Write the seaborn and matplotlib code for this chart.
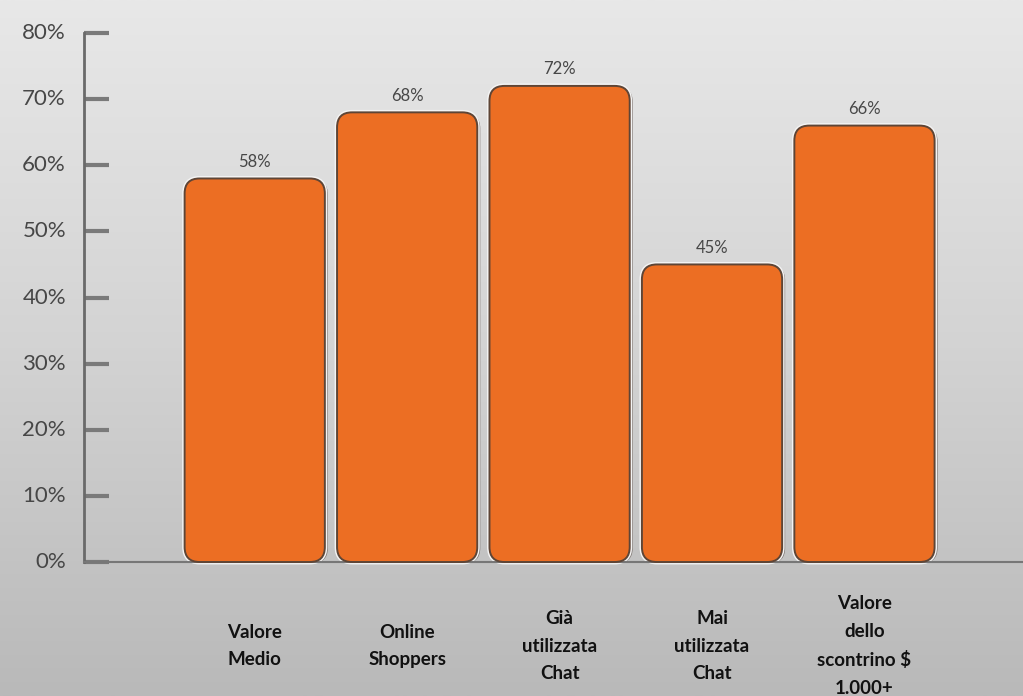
import numpy as np
import pandas as pd
import matplotlib
matplotlib.use("Agg")
import matplotlib.pyplot as plt
import matplotlib.transforms as mtransforms
from matplotlib.patches import FancyBboxPatch
from matplotlib.colors import LinearSegmentedColormap
import seaborn as sns

categories = ["Valore\nMedio", "Online\nShoppers", "Già\nutilizzata\nChat",
              "Mai\nutilizzata\nChat", "Valore\ndello\nscontrino $\n1.000+"]
values = [58, 68, 72, 45, 66]
value_labels = ["58%", "68%", "72%", "45%", "66%"]
ytick_values = [0, 10, 20, 30, 40, 50, 60, 70, 80]
ytick_labels = ["0%", "10%", "20%", "30%", "40%", "50%", "60%", "70%", "80%"]

sns.set_theme(style="white")
plt.rcParams["font.family"] = ["Lato", "DejaVu Sans"]

W, H = 1023, 696
fig = plt.figure(figsize=(W / 100, H / 100), dpi=100)

# background gradient
bg = fig.add_axes([0, 0, 1, 1], zorder=-10)
grad = np.linspace(0, 1, 256).reshape(-1, 1)
cmap = LinearSegmentedColormap.from_list("bg", ["#e8e8e8", "#d3d3d3", "#b9b9b9"])
bg.imshow(grad, aspect="auto", cmap=cmap, extent=[0, 1, 0, 1], origin="upper")
bg.set_axis_off()

ax_left = 84 / W
ax_bottom = 1 - 562 / H
ax_top = 1 - 33 / H
ax = fig.add_axes([ax_left, ax_bottom, 1 - ax_left, ax_top - ax_bottom])
ax.patch.set_alpha(0)

df = pd.DataFrame({"cat": categories, "val": values})
sns.barplot(data=df, x="cat", y="val", color="#EC6E23", width=0.92, ax=ax,
            saturation=1)

ax.set_xlim(-1.12, 5.04)
ax.set_ylim(0, 80)

# replace bars with rounded patches
px_per_x = (W - 84) / 6.16
px_per_y = 529 / 80
rx = 15 / px_per_x
ry = 15 / px_per_y
shadow_tf = ax.transData + mtransforms.ScaledTranslation(3 / 100, -1 / 100, fig.dpi_scale_trans)
bars = list(ax.patches)
for i, p in enumerate(bars):
    x, y = p.get_x(), p.get_y()
    w, h = p.get_width(), p.get_height()
    p.set_visible(False)
    style = f"round,pad=0,rounding_size={rx}"
    sh = FancyBboxPatch((x, y), w, h, boxstyle=style,
                        mutation_aspect=ry / rx, facecolor="#7d7470", edgecolor="none",
                        transform=shadow_tf, zorder=2, clip_on=False)
    ax.add_patch(sh)
    hl = FancyBboxPatch((x, y), w, h, boxstyle=style,
                        mutation_aspect=ry / rx, facecolor="none", edgecolor="#f4f4f4",
                        linewidth=3.5, zorder=2.5, clip_on=False)
    ax.add_patch(hl)
    fb = FancyBboxPatch((x, y), w, h, boxstyle=style,
                        mutation_aspect=ry / rx, facecolor="#EC6E23", edgecolor="#5e4536",
                        linewidth=1.4, zorder=3, clip_on=False)
    ax.add_patch(fb)
    ax.text(x + w / 2, h + 1.3, value_labels[i], ha="center", va="bottom",
            fontsize=12, color="#474747", zorder=4)

# spines / ticks
for s in ["top", "right"]:
    ax.spines[s].set_visible(False)
ax.spines["left"].set_color("#6a6a6a")
ax.spines["left"].set_linewidth(2)
ax.spines["bottom"].set_color("#777777")
ax.spines["bottom"].set_linewidth(1.5)
ax.set_yticks(ytick_values)
ax.set_yticklabels(ytick_labels)
ax.tick_params(axis="y", direction="in", length=18, width=3, color="#7a7a7a",
               pad=13, labelsize=16, labelcolor="#474747", left=True)
ax.tick_params(axis="x", bottom=False, labelbottom=False)
for lbl in ax.get_yticklabels():
    lbl.set_va("center")
ax.set_xlabel("")
ax.set_ylabel("")

# category labels
trans = mtransforms.blended_transform_factory(ax.transData, ax.transAxes)
for i, c in enumerate(categories):
    ax.text(i, (562 - 646) / 529, c, transform=trans, ha="center", va="center",
            fontsize=13.5, fontweight="bold", color="#111111", linespacing=1.75,
            clip_on=False)

fig.savefig("out.png", dpi=100)
